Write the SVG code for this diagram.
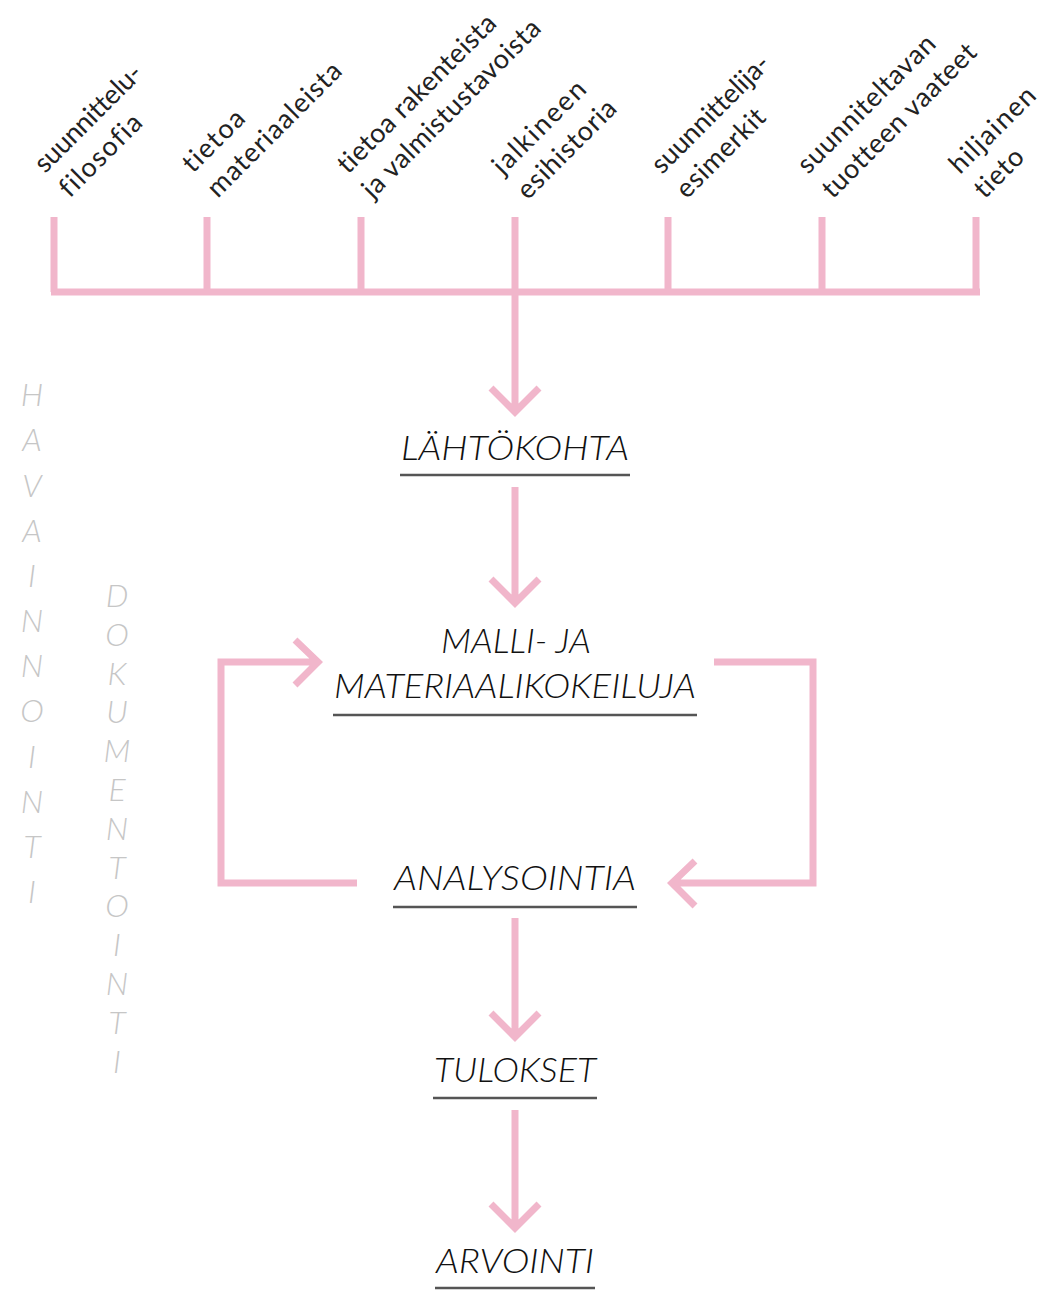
<svg xmlns="http://www.w3.org/2000/svg" width="1060" height="1290" viewBox="0 0 1060 1290">
<style>
.pk{fill:none;stroke:#f1b6cb;stroke-width:7;stroke-linecap:butt;stroke-linejoin:miter}
.top{font-family:Lato,"Liberation Sans","DejaVu Sans",sans-serif;font-size:27px;fill:#222;font-variant-ligatures:none}
.main{font-family:Lato,"Liberation Sans","DejaVu Sans",sans-serif;font-size:34px;font-style:italic;font-weight:300;fill:#111}
.ul{stroke:#555;stroke-width:2.5}
.side{font-family:Lato,"Liberation Sans","DejaVu Sans",sans-serif;font-size:32px;font-style:italic;font-weight:300;fill:#c6c6c6;text-anchor:middle}
</style>
<rect width="1060" height="1290" fill="#fff"/>
<g id="connectors">
  <path class="pk" d="M51,292 H980 M54,292 V217 M207,292 V217 M361,292 V217 M515,292 V217 M668,292 V217 M822,292 V217 M976,292 V217"/>
  <path class="pk" d="M515,292 V410 M491,388 L515,412 L539,388"/>
  <path class="pk" d="M515,487 V601 M491,579 L515,603 L539,579"/>
  <path class="pk" d="M357,883 H221 V662 H316 M295,640 L318,662 L295,685"/>
  <path class="pk" d="M714,662 H813 V883 H674 M695,861 L672,883 L695,906"/>
  <path class="pk" d="M515,918 V1035 M491,1013 L515,1037 L539,1013"/>
  <path class="pk" d="M515,1110 V1226 M491,1204 L515,1228 L539,1204"/>
</g>
<g id="input-labels">
  <text class="top" x="45" y="174" transform="rotate(-45 45 174)"><tspan x="45" textLength="140">suunnittelu-</tspan><tspan x="45" dy="35" textLength="105">filosofia</tspan></text>
  <text class="top" x="193" y="174" transform="rotate(-45 193 174)"><tspan x="193" textLength="76">tietoa</tspan><tspan x="193" dy="35" textLength="178">materiaaleista</tspan></text>
  <text class="top" x="348" y="175" transform="rotate(-45 348 175)"><tspan x="348" textLength="212">tietoa rakenteista</tspan><tspan x="348" dy="35" textLength="240">ja valmistustavoista</tspan></text>
  <text class="top" x="503" y="176" transform="rotate(-45 503 176)"><tspan x="503" textLength="120">jalkineen</tspan><tspan x="503" dy="35" textLength="128">esihistoria</tspan></text>
  <text class="top" x="662" y="175" transform="rotate(-45 662 175)"><tspan x="662" textLength="155">suunnittelija-</tspan><tspan x="662" dy="35" textLength="114">esimerkit</tspan></text>
  <text class="top" x="808" y="175" transform="rotate(-45 808 175)"><tspan x="808" textLength="183">suunniteltavan</tspan><tspan x="808" dy="35" textLength="206">tuotteen vaateet</tspan></text>
  <text class="top" x="960" y="175" transform="rotate(-45 960 175)"><tspan x="960" textLength="110">hiljainen</tspan><tspan x="960" dy="35" textLength="58">tieto</tspan></text>
</g>
<g id="node-lahtokohta">
  <text class="main" x="401" y="460" textLength="228" lengthAdjust="spacingAndGlyphs">LÄHTÖKOHTA</text>
  <line class="ul" x1="400" y1="475" x2="630" y2="475"/>
</g>
<g id="node-malli">
  <text class="main" x="441" y="653" textLength="150" lengthAdjust="spacingAndGlyphs">MALLI- JA</text>
  <text class="main" x="334" y="698" textLength="362" lengthAdjust="spacingAndGlyphs">MATERIAALIKOKEILUJA</text>
  <line class="ul" x1="333" y1="715" x2="697" y2="715"/>
</g>
<g id="node-analysointia">
  <text class="main" x="394" y="890" textLength="242" lengthAdjust="spacingAndGlyphs">ANALYSOINTIA</text>
  <line class="ul" x1="393" y1="907" x2="637" y2="907"/>
</g>
<g id="node-tulokset">
  <text class="main" x="434" y="1082" textLength="162" lengthAdjust="spacingAndGlyphs">TULOKSET</text>
  <line class="ul" x1="433" y1="1098" x2="597" y2="1098"/>
</g>
<g id="node-arvointi">
  <text class="main" x="436" y="1273" textLength="158" lengthAdjust="spacingAndGlyphs">ARVOINTI</text>
  <line class="ul" x1="435" y1="1288" x2="595" y2="1288"/>
</g>
<g id="side-havainnointi">
  <text class="side"><tspan x="32" y="406">H</tspan><tspan x="32" y="451">A</tspan><tspan x="32" y="497">V</tspan><tspan x="32" y="542">A</tspan><tspan x="32" y="587">I</tspan><tspan x="32" y="632">N</tspan><tspan x="32" y="677">N</tspan><tspan x="32" y="722">O</tspan><tspan x="32" y="768">I</tspan><tspan x="32" y="813">N</tspan><tspan x="32" y="858">T</tspan><tspan x="32" y="903">I</tspan></text>
</g>
<g id="side-dokumentointi">
  <text class="side"><tspan x="117" y="607">D</tspan><tspan x="117" y="646">O</tspan><tspan x="117" y="685">K</tspan><tspan x="117" y="723">U</tspan><tspan x="117" y="762">M</tspan><tspan x="117" y="801">E</tspan><tspan x="117" y="840">N</tspan><tspan x="117" y="879">T</tspan><tspan x="117" y="917">O</tspan><tspan x="117" y="956">I</tspan><tspan x="117" y="995">N</tspan><tspan x="117" y="1034">T</tspan><tspan x="117" y="1073">I</tspan></text>
</g>
</svg>
